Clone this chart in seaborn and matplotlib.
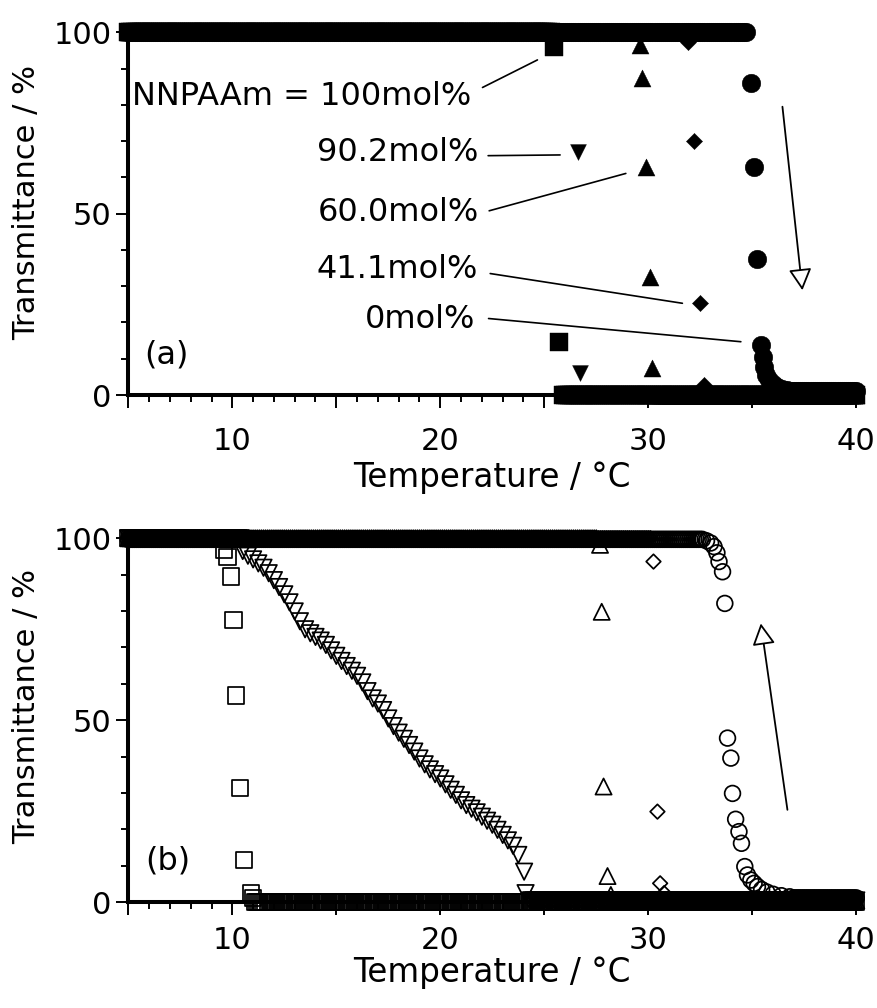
import numpy as np
import pandas as pd
import matplotlib
matplotlib.use("Agg")
import matplotlib.pyplot as plt
from matplotlib.ticker import MultipleLocator, FuncFormatter
import seaborn as sns

sns.set_style("ticks")
plt.rcParams["font.family"] = ["DejaVu Sans"]
plt.rcParams.update({"text.color": "black", "axes.labelcolor": "black",
                     "xtick.color": "black", "ytick.color": "black",
                     "axes.edgecolor": "black"})

# ---------------- data ----------------
STEP = 0.1  # sampling interval of the plateaus (deg C)

# panel (a): heating, filled markers  -- plateaus as (start, end, level)
a_sq_plateaus = [(5.0, 25.3, 100.0), (25.9, 40.0, 0.0)]
a_sq_T = [25.46, 25.70]
a_sq_Tr = [96.0, 14.7]

a_vt_plateaus = [(5.0, 26.4, 100.0), (26.9, 40.0, 0.0)]
a_vt_T = [26.60, 26.70]
a_vt_Tr = [67.1, 6.0]

a_tr_plateaus = [(5.0, 29.4, 100.0), (30.4, 40.0, 0.0)]
a_tr_T = [29.60, 29.70, 29.90, 30.10, 30.20]
a_tr_Tr = [96.5, 87.3, 62.9, 32.6, 7.4]

a_di_plateaus = [(5.0, 31.7, 100.0), (32.9, 40.0, 0.0)]
a_di_T = [31.90, 32.20, 32.50, 32.70]
a_di_Tr = [97.4, 70.0, 25.4, 2.8]

a_ci_plateaus = [(5.0, 34.7, 100.0), (36.8, 40.0, 1.2)]
a_ci_T = [34.93, 35.10, 35.25, 35.41, 35.50, 35.57, 35.65, 35.80, 36.00, 36.20, 36.45, 36.65]
a_ci_Tr = [85.9, 62.9, 37.5, 13.8, 10.6, 7.8, 5.5, 4.1, 3.0, 2.2, 1.7, 1.4]

# panel (b): cooling, open markers
b_sq_plateaus = [(5.0, 9.5, 100.0), (11.1, 40.0, 0.0)]
b_sq_T = [9.60, 9.77, 9.93, 10.06, 10.18, 10.37, 10.57, 10.90, 11.00]
b_sq_Tr = [96.8, 94.9, 89.5, 77.6, 56.8, 31.3, 11.6, 2.5, 1.2]

b_vt_plateaus = [(5.0, 10.4, 100.0), (24.3, 40.0, 0.5)]
b_vt_T = [10.50, 10.75, 11.00, 11.25, 11.50, 11.75, 12.00, 12.25, 12.50, 12.75,
          13.00, 13.25, 13.50, 13.75, 14.00, 14.25, 14.50, 14.75, 15.00, 15.25,
          15.50, 15.75, 16.00, 16.25, 16.50, 16.75, 17.00, 17.25, 17.50, 17.75,
          18.00, 18.25, 18.50, 18.75, 19.00, 19.25, 19.50, 19.75, 20.00, 20.25,
          20.50, 20.75, 21.00, 21.25, 21.50, 21.75, 22.00, 22.25, 22.50, 22.75,
          23.00, 23.25, 23.50, 23.75, 24.03, 24.10]
b_vt_Tr = [96.5, 95.2, 94.2, 93.1, 91.9, 90.4, 88.5, 86.6, 84.6, 82.4,
           79.9, 77.2, 75.0, 73.9, 72.9, 71.9, 70.7, 69.2, 67.7, 66.3,
           64.9, 63.6, 62.2, 60.4, 58.0, 56.0, 54.6, 52.8, 50.5, 48.4,
           46.6, 44.9, 43.2, 41.4, 39.5, 37.9, 36.5, 35.2, 34.0, 32.4,
           30.9, 29.5, 28.0, 26.7, 25.7, 24.7, 23.5, 22.4, 21.3, 19.9,
           18.5, 17.0, 15.5, 13.0, 8.4, 2.5]

b_tr_plateaus = [(5.0, 27.5, 100.0), (28.3, 40.0, 0.5)]
b_tr_T = [27.68, 27.76, 27.85, 28.04, 28.20]
b_tr_Tr = [98.2, 79.8, 31.8, 7.2, 2.0]

b_di_plateaus = [(5.0, 30.1, 100.0), (30.9, 40.0, 0.5)]
b_di_T = [30.25, 30.44, 30.57, 30.76]
b_di_Tr = [93.6, 24.9, 5.2, 2.5]

b_ci_plateaus = [(5.0, 32.6, 99.7), (37.0, 40.0, 1.2)]
b_ci_T = [32.80, 33.00, 33.16, 33.30, 33.40, 33.57, 33.68, 33.81, 33.97, 34.05,
          34.20, 34.36, 34.48, 34.64, 34.77, 34.93, 35.09, 35.25, 35.45, 35.70,
          36.00, 36.40, 36.80]
b_ci_Tr = [99.3, 98.7, 97.7, 96.0, 93.6, 90.8, 82.1, 45.1, 39.6, 29.9,
           22.8, 19.4, 16.2, 9.8, 7.5, 6.1, 5.2, 4.3, 3.5, 2.8,
           2.2, 1.8, 1.5]

# annotation texts of panel (a)
a_labels = ["NNPAAm = 100mol%", "90.2mol%", "60.0mol%", "41.1mol%", "0mol%"]
a_label_pos = [(21.47, 80.1), (21.85, 64.4), (21.85, 48.1), (21.80, 32.2), (21.70, 18.4)]
a_label_lines = [((22.03, 84.8), (24.67, 92.4)),
                 ((22.30, 66.0), (25.76, 66.2)),
                 ((22.35, 50.8), (28.92, 61.1)),
                 ((22.40, 33.5), (31.64, 25.3)),
                 ((22.32, 21.1), (34.45, 14.7))]

# ---------------- helpers ----------------
def build(plateaus, T, Tr):
    hi, lo = plateaus
    t_hi = np.arange(hi[0], hi[1] + 1e-9, STEP)
    t_lo = np.arange(lo[0], lo[1] + 1e-9, STEP)
    t = np.concatenate([t_hi, np.asarray(T, float), t_lo])
    y = np.concatenate([np.full(t_hi.size, hi[2]), np.asarray(Tr, float), np.full(t_lo.size, lo[2])])
    return pd.DataFrame({"T": t, "Tr": y})


def draw(ax, df, marker, s, filled, lw=1.25):
    n0 = len(ax.collections)
    sns.scatterplot(data=df, x="T", y="Tr", marker=marker, s=s, color="black",
                    ax=ax, legend=False, clip_on=False, zorder=3)
    coll = ax.collections[n0]
    if filled:
        coll.set_facecolor("black")
        coll.set_edgecolor("black")
        coll.set_linewidth(0.3)
    else:
        coll.set_facecolor("none")
        coll.set_edgecolor("black")
        coll.set_linewidth(lw)


def style(ax, xpad):
    ax.set_xlim(5, 40.25)
    ax.set_ylim(0, 100)
    sns.despine(ax=ax)
    for side in ("left", "bottom"):
        ax.spines[side].set_linewidth(2.9)
        ax.spines[side].set_color("black")
    ax.xaxis.set_major_locator(MultipleLocator(5))
    ax.xaxis.set_minor_locator(MultipleLocator(1))
    ax.xaxis.set_major_formatter(FuncFormatter(lambda v, p: f"{int(round(v))}" if round(v) % 10 == 0 and v > 6 else ""))
    ax.yaxis.set_major_locator(MultipleLocator(50))
    ax.yaxis.set_minor_locator(MultipleLocator(10))
    ax.tick_params(which="major", direction="out", length=9, width=1.4, labelsize=22, color="black")
    ax.tick_params(axis="x", which="major", pad=xpad)
    ax.tick_params(axis="y", which="major", pad=3)
    ax.tick_params(which="minor", direction="out", length=5, width=1.4, color="black")
    ax.set_xlabel("")
    ax.set_ylabel("")
    ax.set_facecolor("white")


# ---------------- figure ----------------
fig = plt.figure(figsize=(8.77, 10.08), dpi=100)
ax_a = fig.add_axes([0.1463, 0.6081, 0.836, 0.3598])
ax_b = fig.add_axes([0.1463, 0.1049, 0.836, 0.3611])

# panel (a)
draw(ax_a, build(a_sq_plateaus, a_sq_T, a_sq_Tr), "s", 165, True)
draw(ax_a, build(a_vt_plateaus, a_vt_T, a_vt_Tr), "v", 130, True)
draw(ax_a, build(a_tr_plateaus, a_tr_T, a_tr_Tr), "^", 150, True)
draw(ax_a, build(a_di_plateaus, a_di_T, a_di_Tr), "D", 68, True)
draw(ax_a, build(a_ci_plateaus, a_ci_T, a_ci_Tr), "o", 180, True)

# panel (b)
draw(ax_b, build(b_sq_plateaus, b_sq_T, b_sq_Tr), "s", 138, False)
draw(ax_b, build(b_vt_plateaus, b_vt_T, b_vt_Tr), "v", 140, False)
draw(ax_b, build(b_tr_plateaus, b_tr_T, b_tr_Tr), "^", 135, False)
draw(ax_b, build(b_di_plateaus, b_di_T, b_di_Tr), "D", 55, False)
draw(ax_b, build(b_ci_plateaus, b_ci_T, b_ci_Tr), "o", 128, False)

style(ax_a, 14)
style(ax_b, 8)

# labels in panel (a)
for txt, (x, y) in zip(a_labels, a_label_pos):
    ax_a.text(x, y, txt, ha="right", va="baseline", fontsize=23)
for (p0, p1) in a_label_lines:
    ax_a.plot([p0[0], p1[0]], [p0[1], p1[1]], color="black", lw=1.2, zorder=2)

# arrows
arrow_kw = dict(arrowstyle="-|>,head_length=0.6,head_width=0.32", mutation_scale=22,
                fc="white", ec="black", lw=1.3, shrinkA=0, shrinkB=0)
ax_a.annotate("", xy=(37.41, 28.9), xytext=(36.45, 79.5), arrowprops=arrow_kw)
ax_b.annotate("", xy=(35.41, 76.6), xytext=(36.69, 25.4), arrowprops=arrow_kw)

# panel letters
ax_a.text(5.75, 8.8, "(a)", ha="left", va="baseline", fontsize=23)
ax_b.text(5.80, 8.9, "(b)", ha="left", va="baseline", fontsize=23)

# axis labels
for yc in (202.5 / 1008, 706 / 1008):
    fig.text(27 / 877, 1 - yc, "Transmittance / %", rotation=90, ha="center", va="center", fontsize=22)
for yb in (487 / 1008, 982 / 1008):
    fig.text(492 / 877, 1 - yb, "Temperature / °C", ha="center", va="baseline", fontsize=23.5)

fig.savefig("out.png", dpi=100, facecolor="white")
